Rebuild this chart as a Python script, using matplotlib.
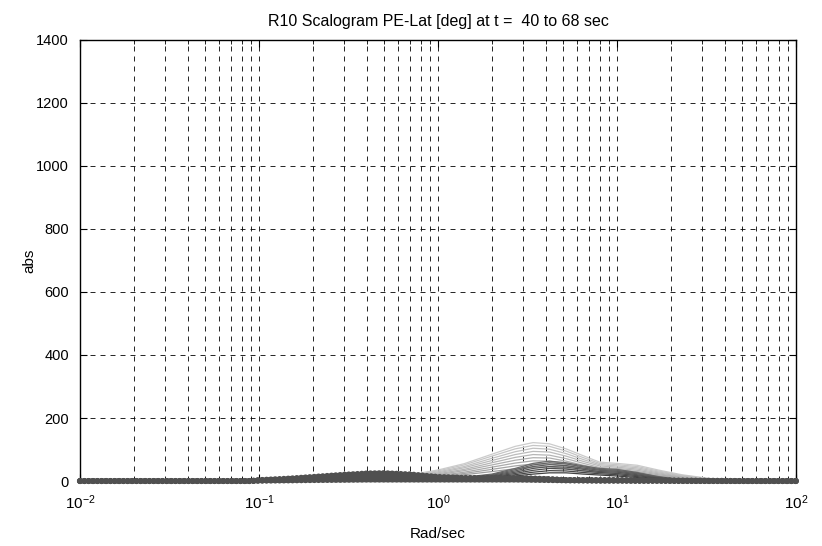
import matplotlib.pyplot as plt
import numpy as np

plt.rcParams['font.family'] = ['Liberation Sans', 'DejaVu Sans']
plt.rcParams['mathtext.default'] = 'regular'

# frequency samples (Rad/sec)
freq = [0.01, 0.03, 0.09, 0.1, 0.15, 0.2, 0.3, 0.4, 0.5, 0.7, 1.0, 1.4, 2.0,
        2.7, 3.4, 4.2, 5.2, 6.5, 8.0, 10, 13, 17, 23, 33, 50, 100]

# light family (earliest windows)
light = [
    [0, 0, 0, 0, 1, 2, 4, 7, 11, 20, 35, 55, 85, 110, 122, 118, 102, 80, 60, 56, 50, 35, 20, 8, 2, 0],
    [0, 0, 0, 0, 1, 2, 4, 6, 10, 18, 32, 51, 79, 102, 113, 110, 95, 74, 56, 52, 46, 32, 18, 7, 2, 0],
    [0, 0, 0, 0, 1, 2, 3, 6, 9, 16, 29, 46, 72, 93, 104, 101, 87, 68, 52, 48, 42, 29, 16, 6, 2, 0],
    [0, 0, 0, 0, 1, 1, 3, 5, 8, 14, 26, 42, 65, 84, 94, 92, 79, 62, 48, 44, 38, 26, 14, 5, 1, 0],
    [0, 0, 0, 0, 1, 1, 3, 5, 7, 13, 23, 37, 58, 75, 84, 82, 71, 56, 43, 40, 34, 23, 12, 5, 1, 0],
    [0, 0, 0, 0, 0, 1, 2, 4, 6, 11, 20, 33, 51, 66, 74, 73, 63, 50, 39, 36, 30, 20, 11, 4, 1, 0],
    [0, 0, 0, 0, 0, 1, 2, 3, 5, 10, 17, 28, 44, 57, 64, 63, 55, 44, 35, 32, 26, 17, 9, 3, 1, 0],
    [0, 0, 0, 0, 0, 1, 2, 3, 5, 8, 14, 24, 37, 48, 54, 54, 48, 39, 31, 28, 22, 14, 7, 3, 1, 0],
    [0, 0, 0, 0, 0, 1, 1, 2, 4, 7, 12, 20, 30, 39, 44, 45, 40, 33, 27, 24, 18, 11, 6, 2, 1, 0],
]

# dark family
dark = [
    [0, 0, 0, 0, 1, 2, 3, 4, 5, 6, 8, 12, 22, 40, 56, 63, 58, 48, 40, 37, 27, 14, 4, 1, 0, 0],
    [0, 0, 0, 0, 1, 2, 3, 4, 5, 6, 8, 11, 20, 36, 51, 58, 54, 45, 37, 34, 25, 13, 4, 1, 0, 0],
    [0, 0, 0, 0, 1, 2, 3, 4, 4, 5, 7, 10, 18, 32, 46, 52, 49, 41, 34, 31, 23, 12, 4, 1, 0, 0],
    [0, 0, 0, 0, 1, 1, 2, 3, 4, 5, 6, 9, 16, 28, 40, 46, 44, 37, 30, 28, 20, 10, 3, 1, 0, 0],
    [0, 0, 0, 0, 1, 1, 2, 3, 3, 4, 5, 8, 14, 24, 34, 40, 38, 32, 27, 24, 17, 9, 3, 1, 0, 0],
    [0, 0, 0, 0, 0, 1, 2, 2, 3, 4, 5, 7, 12, 20, 28, 33, 32, 27, 23, 20, 14, 7, 2, 1, 0, 0],
    [0, 0, 0, 0, 0, 1, 1, 2, 2, 3, 4, 6, 10, 16, 22, 26, 26, 22, 19, 16, 11, 6, 2, 0, 0, 0],
]

# last windows, drawn with circle markers
marked = [
    [0, 0, 0, 3, 8, 13, 20, 24, 25, 21, 13, 10, 9, 9, 8, 6, 3, 3, 3, 3, 2, 2, 1, 1, 0, 0],
    [0, 0, 0, 2, 5, 8, 12, 14, 14, 12, 9, 8, 8, 8, 7, 5, 3, 2, 2, 2, 1, 1, 1, 0, 0, 0],
    [0, 0, 0, 1, 2, 3, 4, 5, 5, 5, 5, 5, 5, 5, 4, 3, 2, 2, 1, 1, 1, 1, 0, 0, 0, 0],
]

xticks = [0.01, 0.1, 1, 10, 100]
xticklabels = ['$10^{-2}$', '$10^{-1}$', '$10^{0}$', '$10^{1}$', '$10^{2}$']

fig = plt.figure(figsize=(8.22, 5.46), dpi=100)
ax = fig.add_axes([0.0973, 0.119, 0.8710, 0.808])

for i, y in enumerate(light):
    g = 0.80 - 0.18 * i / (len(light) - 1)
    ax.plot(freq, y, color=(g, g, g), lw=0.9)
for i, y in enumerate(dark):
    g = 0.42 - 0.17 * i / (len(dark) - 1)
    ax.plot(freq, y, color=(g, g, g), lw=0.9)
for y in marked:
    # bead chain: thick line + round-capped dots
    ax.plot(freq, y, color='#505050', lw=2.6, clip_on=False, zorder=5)
    ax.plot(freq, y, color='#505050', lw=4.4, linestyle=(0, (0.01, 0.7)),
            dash_capstyle='round', clip_on=False, zorder=5)

ax.set_xscale('log')
ax.set_xlim(0.01, 100)
ax.set_ylim(0, 1400)
ax.set_yticks(np.arange(0, 1401, 200))
ax.set_xticks(xticks)
ax.set_xticklabels(xticklabels)

ax.grid(True, which='major', axis='both', color='black', lw=0.6, linestyle=(0, (6, 6)))
ax.grid(True, which='minor', axis='x', color='black', lw=0.6, linestyle=(0, (6, 6)))
ax.tick_params(which='both', direction='in', top=True, right=True, labelsize=10.5)
ax.tick_params(which='major', length=5)
ax.tick_params(which='minor', length=3)
ax.tick_params(axis='x', pad=9, labelsize=11)
ax.tick_params(axis='y', pad=8)
for s in ax.spines.values():
    s.set_linewidth(1.0)

ax.set_title('R10 Scalogram PE-Lat [deg] at t =  40 to 68 sec', fontsize=11.5, pad=10)
ax.set_xlabel('Rad/sec', fontsize=11, labelpad=11)
ax.set_ylabel('abs', fontsize=11, labelpad=0)

fig.savefig('out.png', dpi=100)
